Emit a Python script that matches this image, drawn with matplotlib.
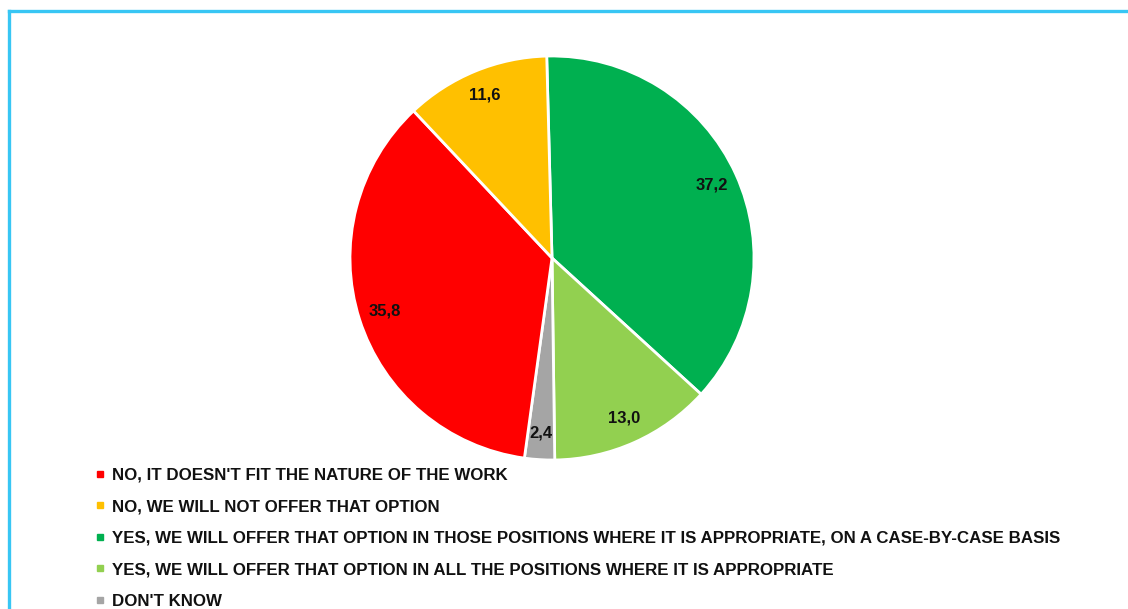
import matplotlib
matplotlib.use("Agg")
import matplotlib.pyplot as plt
from matplotlib.lines import Line2D

plt.rcParams['font.family'] = ['Liberation Sans', 'DejaVu Sans']

# Answers in legend order
categories = [
    "NO, IT DOESN'T FIT THE NATURE OF THE WORK",
    "NO, WE WILL NOT OFFER THAT OPTION",
    "YES, WE WILL OFFER THAT OPTION IN THOSE POSITIONS WHERE IT IS APPROPRIATE, ON A CASE-BY-CASE BASIS",
    "YES, WE WILL OFFER THAT OPTION IN ALL THE POSITIONS WHERE IT IS APPROPRIATE",
    "DON'T KNOW",
]
shares = [35.8, 11.6, 37.2, 13.0, 2.4]
colors = ["#FF0000", "#FFC000", "#00B050", "#92D050", "#A5A5A5"]

# Pie slices go clockwise from 12 o'clock in this order
slice_order = [2, 3, 4, 0, 1]

fig = plt.figure(figsize=(11.28, 6.09), dpi=100)

# Light blue frame around the chart area
fig.add_artist(Line2D([9 / 1128, 1], [1 - 11 / 609, 1 - 11 / 609],
                      transform=fig.transFigure, color="#38C6F4", lw=2.4))
fig.add_artist(Line2D([9 / 1128, 9 / 1128], [0, 1 - 11 / 609],
                      transform=fig.transFigure, color="#38C6F4", lw=2.4))

ax = fig.add_axes([350 / 1128, 149 / 609, 404 / 1128, 404 / 609])
vals = [shares[i] for i in slice_order]
cols = [colors[i] for i in slice_order]
wedges, texts, autotexts = ax.pie(
    vals, colors=cols, startangle=91.5, counterclock=False,
    autopct=lambda p: f"{p:.1f}".replace(".", ","), pctdistance=0.87,
    wedgeprops=dict(edgecolor="white", linewidth=2),
    textprops=dict(fontsize=12, fontweight="bold", color="#111111"),
    radius=1.0,
)
ax.set_xlim(-1, 1)
ax.set_ylim(-1, 1)
ax.set_aspect("equal")
ax.axis("off")

handles = [Line2D([], [], marker="s", linestyle="none", markersize=4.5,
                  markerfacecolor=c, markeredgecolor=c) for c in colors]
fig.legend(handles, categories, loc="upper left",
           bbox_to_anchor=(95 / 1128, 1 - 467.5 / 609),
           frameon=False, handlelength=0.6, handletextpad=0.42,
           labelspacing=0.98, borderaxespad=0, borderpad=0,
           prop=dict(size=12.2, weight="bold"), labelcolor="#111111")

fig.savefig("out.png", dpi=100)
